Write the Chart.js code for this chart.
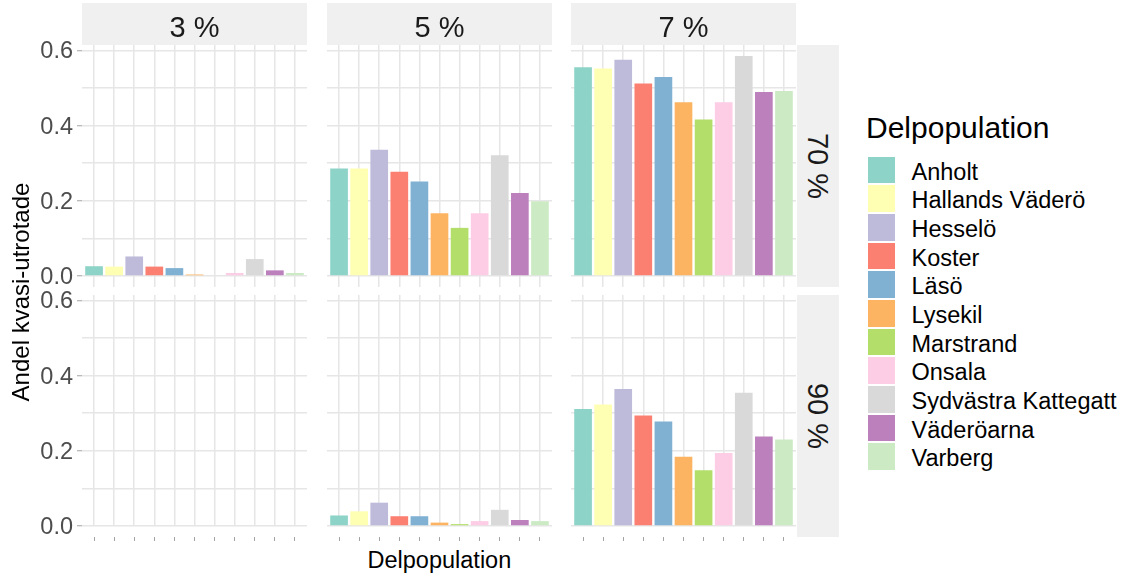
<!DOCTYPE html>
<html lang="sv">
<head>
<meta charset="utf-8">
<title>Andel kvasi-utrotade per delpopulation</title>
<script src="https://cdn.jsdelivr.net/npm/chart.js@4.4.1/dist/chart.umd.min.js"></script>
<style>
  html, body { margin: 0; padding: 0; background: #ffffff; }
  #figure {
    position: relative; width: 1121px; height: 578px; overflow: hidden;
    font-family: 'Liberation Sans', Arial, sans-serif; background: #ffffff;
  }
  #figure canvas { position: absolute; }
  .strip { position: absolute; background: #F0F0F0; }
  .txt { position: absolute; white-space: nowrap; }
  .strip-text { font-size: 29px; color: #1A1A1A; text-align: center; }
  .key { position: absolute; }
</style>
</head>
<body>
<div id="figure"></div>
<script>
// Delpopulationer (x categories) and their Set3 fill colours
const categories = ['Anholt', 'Hallands Väderö', 'Hesselö', 'Koster', 'Läsö', 'Lysekil',
  'Marstrand', 'Onsala', 'Sydvästra Kattegatt', 'Väderöarna', 'Varberg'];
const barColors = ['#8DD3C7', '#FFFFB3', '#BEBADA', '#FB8072', '#80B1D3', '#FDB462',
  '#B3DE69', '#FCCDE5', '#D9D9D9', '#BC80BD', '#CCEBC5'];

// Facet labels: columns and rows
const colLabels = ['3 %', '5 %', '7 %'];
const rowLabels = ['70 %', '90 %'];

// Andel kvasi-utrotade, one array per facet (row 70 % / 90 %, column 3 / 5 / 7 %)
const andel70_3 = [0.026, 0.025, 0.052, 0.025, 0.021, 0.004, 0.000, 0.008, 0.045, 0.015, 0.008];
const andel70_5 = [0.286, 0.286, 0.336, 0.277, 0.251, 0.167, 0.128, 0.167, 0.321, 0.221, 0.199];
const andel70_7 = [0.555, 0.552, 0.575, 0.512, 0.529, 0.462, 0.416, 0.462, 0.585, 0.489, 0.492];
const andel90_3 = [0, 0, 0, 0, 0, 0, 0, 0, 0, 0, 0];
const andel90_5 = [0.028, 0.039, 0.062, 0.026, 0.026, 0.009, 0.005, 0.013, 0.043, 0.016, 0.013];
const andel90_7 = [0.311, 0.323, 0.364, 0.294, 0.278, 0.184, 0.148, 0.194, 0.354, 0.238, 0.230];

// y axis: grid positions and the labelled (major) ones
const yTickValues = [0, 0.1, 0.2, 0.3, 0.4, 0.5, 0.6];
const yLabelValues = [0, 0.2, 0.4, 0.6];
const yTickLabels = ['0.0', '0.2', '0.4', '0.6'];

const yTitle = 'Andel kvasi-utrotade';
const xTitle = 'Delpopulation';
const legendTitle = 'Delpopulation';

const facetValues = [
  [andel70_3, andel70_5, andel70_7],
  [andel90_3, andel90_5, andel90_7]
];

// ---- layout -------------------------------------------------------------
const FONT = "'Liberation Sans', Arial, sans-serif";
const GRID = '#E6E6E6';
const GRID_W = 1.5;
const TICK = '#A3A3A3';
const colLeft = [82, 327, 571];
const panelW = 225;
const rowTop = [45, 295];
const panelH = 242;
const yAxisW = 82;
const labelRoom = 16;   // room above the panel for the top y label

// shared y range with 5 % padding on both ends
const maxVal = Math.max(...facetValues.flat().flat());
const yMax = maxVal * 1.05;
const yMin = -maxVal * 0.05;
const pxPerUnit = panelH / (yMax - yMin);
const spacer = Math.round(-yMin * pxPerUnit);
const xTickLen = 4;

Chart.defaults.font.family = FONT;

const fig = document.getElementById('figure');

function addDiv(cls, css, text) {
  const d = document.createElement('div');
  d.className = cls;
  Object.assign(d.style, css);
  if (text !== undefined) d.textContent = text;
  fig.appendChild(d);
  return d;
}

function xTicks(scale) {
  scale.ticks = categories.map((c, i) => ({ value: i }));
}

function makePanel(r, c) {
  const values = facetValues[r][c];
  const bottomRow = r === rowLabels.length - 1;
  const leftCol = c === 0;
  const yw = leftCol ? yAxisW : 0;
  const padTop = leftCol ? labelRoom : 0;
  const areaH = bottomRow ? panelH - spacer : panelH;
  const cw = panelW + yw;
  const ch = padTop + areaH + (bottomRow ? spacer + xTickLen + 1 : 0);

  const cv = document.createElement('canvas');
  cv.width = cw; cv.height = ch;
  cv.style.left = (colLeft[c] - yw) + 'px';
  cv.style.top = (rowTop[r] - padTop) + 'px';
  cv.style.width = cw + 'px';
  cv.style.height = ch + 'px';
  fig.appendChild(cv);

  const scales = {
    x: {
      type: 'linear', position: 'bottom', weight: 0,
      min: -0.6, max: categories.length - 1 + 0.6, offset: false,
      afterBuildTicks: xTicks,
      ticks: { display: false },
      grid: { color: GRID, lineWidth: GRID_W, drawTicks: false, offset: false },
      border: { display: false },
      afterFit: s => { s.height = bottomRow ? spacer : 0; s.paddingLeft = 0; s.paddingRight = 0; }
    },
    y: {
      type: 'linear', position: 'left',
      min: bottomRow ? 0 : yMin, max: yMax,
      afterBuildTicks: s => { s.ticks = yTickValues.map(v => ({ value: v })); },
      ticks: {
        display: leftCol, autoSkip: false, padding: 4, labelOffset: 1.5,
        color: '#4D4D4D', font: { size: 23.5, family: FONT },
        callback: v => { const i = yLabelValues.indexOf(v); return i >= 0 ? yTickLabels[i] : ''; }
      },
      grid: {
        color: GRID, lineWidth: GRID_W, drawTicks: leftCol, tickLength: 5, tickWidth: 1,
        tickColor: ctx => (ctx.tick && yLabelValues.includes(ctx.tick.value)) ? TICK : 'rgba(0,0,0,0)'
      },
      border: { display: false },
      afterFit: s => { s.width = yw; s.paddingTop = 0; s.paddingBottom = 0; }
    }
  };
  if (bottomRow) {
    // tick marks under the bottom row, set off from the panel by the padding band
    scales.xt = {
      type: 'linear', axis: 'x', position: 'bottom', weight: 1,
      min: -0.6, max: categories.length - 1 + 0.6, offset: false,
      afterBuildTicks: xTicks,
      ticks: { display: false },
      grid: { drawOnChartArea: false, drawTicks: true, tickLength: xTickLen, tickColor: TICK, tickWidth: 1, offset: false },
      border: { display: false },
      afterFit: s => { s.height = xTickLen + 1; s.paddingLeft = 0; s.paddingRight = 0; }
    };
  }

  new Chart(cv, {
    type: 'bar',
    data: {
      datasets: [{
        label: colLabels[c] + ' / ' + rowLabels[r],
        data: categories.map((name, i) => ({ x: i, y: values[i] })),
        backgroundColor: barColors,
        borderWidth: 0,
        barPercentage: 0.88,
        categoryPercentage: 1,
        xAxisID: 'x', yAxisID: 'y'
      }]
    },
    options: {
      responsive: false, animation: false, devicePixelRatio: 1,
      layout: { padding: { top: padTop, left: 0, right: 0, bottom: 0 } },
      plugins: { legend: { display: false }, tooltip: { enabled: false } },
      scales
    }
  });
}

// panels
rowLabels.forEach((rl, r) => colLabels.forEach((cl, c) => makePanel(r, c)));

// column strips on top
colLabels.forEach((lab, c) => {
  addDiv('strip', { left: colLeft[c] + 'px', top: '3px', width: panelW + 'px', height: (rowTop[0] - 3) + 'px' });
  addDiv('txt strip-text', {
    left: colLeft[c] + 'px', top: '9.5px', width: panelW + 'px', height: '34px', lineHeight: '34px'
  }, lab);
});

// row strips on the right
const stripX = colLeft[2] + panelW + 1;
const stripW = 42;
rowLabels.forEach((lab, r) => {
  addDiv('strip', { left: stripX + 'px', top: rowTop[r] + 'px', width: stripW + 'px', height: panelH + 'px' });
  const cy = rowTop[r] + panelH / 2;
  const cx = stripX + stripW / 2 - 0.5;
  addDiv('txt strip-text', {
    left: (cx - 100) + 'px', top: (cy - 17) + 'px', width: '200px', height: '34px', lineHeight: '34px',
    transform: 'rotate(90deg)', transformOrigin: '50% 50%'
  }, lab);
});

// axis titles
addDiv('txt', {
  left: (20.7 - 150) + 'px', top: (291.8 - 15) + 'px', width: '300px', height: '30px', lineHeight: '30px',
  textAlign: 'center', fontSize: '24px', color: '#000', transform: 'rotate(-90deg)', transformOrigin: '50% 50%'
}, yTitle);
addDiv('txt', {
  left: (439.4 - 150) + 'px', top: (559.5 - 15) + 'px', width: '300px', height: '30px', lineHeight: '30px',
  textAlign: 'center', fontSize: '23.5px', color: '#000'
}, xTitle);

// legend
addDiv('txt', {
  left: '866px', top: (128 - 18) + 'px', height: '36px', lineHeight: '36px', fontSize: '30px', color: '#000'
}, legendTitle);
const keyTop = 156.7, keyPitch = 28.67, keySize = 26.7;
categories.forEach((name, i) => {
  const t = keyTop + i * keyPitch;
  addDiv('key', { left: '868.3px', top: t + 'px', width: keySize + 'px', height: keySize + 'px', background: barColors[i] });
  const cy = t + keySize / 2 + 1.6;
  addDiv('txt', {
    left: '911.5px', top: (cy - 15) + 'px', height: '30px', lineHeight: '30px', fontSize: '23.5px', color: '#000'
  }, name);
});
</script>
</body>
</html>
